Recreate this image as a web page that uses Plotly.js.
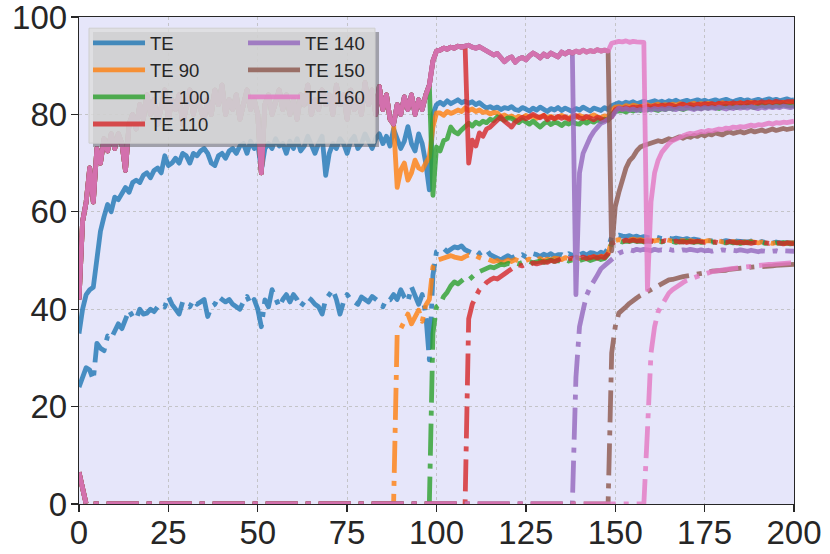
<!DOCTYPE html>
<html>
<head>
<meta charset="utf-8">
<script src="https://cdn.plot.ly/plotly-3.0.1.min.js"></script>
<style>
  html, body { margin: 0; padding: 0; background: #fff; }
  #plot { width: 830px; height: 554px; }
  .js-line { stroke-linejoin: round; }
</style>
</head>
<body>
<div id="plot"></div>
<script>
// tick labels
const xTicks = [0, 25, 50, 75, 100, 125, 150, 175, 200]
const yTicks = [0, 20, 40, 60, 80, 100]

// run names, colours and the epoch each fine-tuned run branches off the shared run
const runNames = ['TE', 'TE 90', 'TE 100', 'TE 110', 'TE 140', 'TE 150', 'TE 160']
const runColors = ['31,119,180', '255,127,14', '44,160,44', '214,39,40', '148,103,189', '140,86,75', '227,119,194']
const branchAt = [null, 88, 98, 108, 138, 148, 158]

// TE, epochs 0..200
const teTrain = [
  35, 40, 43, 44, 44.5, 50, 56, 59, 61.5, 60,
  63, 62.5, 64, 65, 64, 66, 66.5, 66, 67.5, 68,
  67, 68.5, 69, 68, 71.5, 69.5, 70, 71, 70, 72,
  71.5, 70, 72, 71.5, 72.5, 73, 72, 70, 69.5, 71.5,
  72, 71, 72.5, 73, 72, 73.5, 74, 72, 74.5, 73,
  74, 68.5, 73, 74, 73, 75, 73.5, 74, 72, 74.5,
  73, 75, 72.5, 73.5, 75.5, 74, 72, 74, 75.5, 67.5,
  72, 74, 73, 75, 74, 72, 74.5, 75.5, 73, 74,
  76, 74.5, 73, 75, 76, 74, 75.5, 73.5, 77, 75,
  73, 74.5, 77.5, 74, 72.5, 76, 74, 70, 64.5, 80,
  82, 82.5, 82, 82.8, 82.2, 82.6, 83, 82.4, 82.7, 82.3,
  82.6, 82, 82.4, 81.8, 81.3, 81.6, 81.2, 81.5, 81, 81.4,
  81.2, 81.6, 81, 80.8, 81.4, 81.1, 80.7, 81.3, 80.9, 81.5,
  81, 80.6, 81.2, 80.9, 81.4, 80.8, 81.3, 81, 80.6, 81.2,
  80.9, 81.5, 81, 80.7, 81.3, 81.1, 80.8, 81.4, 81, 81.8,
  82.2, 82.4, 82.1, 82.5, 82.3, 82.6, 82.2, 82.5, 82.7, 82.4,
  82.6, 82.8, 82.5, 82.7, 82.4, 82.8, 82.6, 82.9, 82.5, 82.7,
  82.9, 82.6, 82.8, 83, 82.7, 82.9, 82.6, 82.8, 83, 82.7,
  82.9, 83.1, 82.8, 82.6, 82.9, 83.1, 82.8, 83, 82.7, 82.9,
  83.1, 82.8, 83, 83.2, 82.9, 83.1, 82.8, 83, 83.2, 82.9,
  83
]
const teTest = [
  24, 26, 28, 27.5, 25.5, 33, 32, 31.5, 34.5, 34,
  35.5, 37, 36, 38, 39.8, 38.5, 38, 40, 39, 39.2,
  40, 39.5, 40.5, 41, 40.5, 42.6, 41, 40, 39, 41.5,
  41, 40.5, 41.9, 41, 41.5, 42, 38.5, 40.5, 41, 42.6,
  42, 41.5, 42, 41, 40.5, 40, 41.5, 42.6, 41, 42,
  40, 36.4, 41.9, 40.5, 44, 42.5, 40.5, 42, 43, 41.5,
  43, 42, 40.5, 41.5, 42.5, 41.9, 41, 40.5, 39, 42,
  43, 44, 42, 39, 41.5, 43, 42, 41.5, 41, 42.5,
  42, 41.5, 42.6, 42, 41.5, 40.5, 42, 41.9, 43, 42,
  44, 42.5, 41.5, 44.6, 43, 41, 43, 39, 29.6, 47,
  51.8, 52.2, 52.5, 51.8, 52.4, 52.8, 52.6, 53, 52.2, 51.8,
  51.5, 52, 51.4, 51.9, 52.2, 51.2, 50.8, 50.4, 50.1, 50.6,
  51, 50.5, 50.9, 50.8, 51.2, 50.7, 51, 51.4, 51.2, 50.8,
  51.3, 51, 51.4, 50.9, 51.2, 51.2, 50.8, 51.4, 51.1, 51.6,
  51.2, 51.5, 51.1, 51.6, 51.5, 51.2, 51.7, 51.4, 52.5, 54.9,
  55, 55.2, 55, 54.9, 55.1, 54.8, 55, 54.7, 54.9, 54.8,
  54.6, 54.9, 54.7, 54.5, 54.8, 54.6, 54.4, 54.6, 54.5, 54.3,
  54.5, 54.2, 54.4, 54.3, 54.1, 54.3, 54.2, 54, 54.2, 54.1,
  53.9, 54.1, 54, 53.8, 54, 53.9, 53.9, 53.8, 54, 53.8,
  53.7, 53.9, 53.7, 53.8, 53.6, 53.8, 53.7, 53.5, 53.7, 53.6,
  53.6
]

// shared run the fine-tuned models start from, epochs 0..158
const baseTrain = [
  42, 58, 62, 69, 62, 73, 70, 75, 72.5, 76,
  73, 76, 74, 68.5, 78, 80, 77, 82, 79, 84,
  80, 83, 78, 81, 85, 79, 83, 81, 84, 78,
  82, 85, 80, 84, 81, 79, 83, 80, 85, 82,
  86, 80, 83, 81, 84, 79, 82, 85, 81, 83,
  80, 68, 82, 84, 80, 83, 85, 81, 84, 80,
  83, 79, 84, 82, 86, 80, 83, 81, 85, 82,
  84, 80, 86, 82, 84, 79, 85, 81, 83, 80,
  86.5, 82, 85, 80, 85.7, 81, 84, 79, 78, 82,
  80, 83.6, 81, 84, 80, 83, 81, 84, 86, 91,
  93, 93.2, 93.6, 93.4, 93.8, 93.6, 94, 93.8, 94, 94.2,
  93.8, 93.6, 93.9, 93.4, 93.2, 92.6, 92.2, 92.5, 91.6, 90.8,
  91.5, 91.8, 90.7, 91.4, 91.7, 91.2, 92, 92.6, 92.2, 91.6,
  92.4, 91.9, 92.6, 92.3, 91.8, 92.8, 92.4, 92.9, 92.6, 93,
  92.7, 93.2, 92.8, 93.1, 92.9, 93.3, 93, 93.2, 93, 94.6,
  94.8, 95, 94.9, 95.1, 94.8, 95, 94.9, 94.9, 94.8
]
const baseTest = [
  6.5, 3, 0, 0, 0, 0, 0, 0, 0, 0,
  0, 0, 0, 0, 0, 0, 0, 0, 0, 0,
  0, 0, 0, 0, 0, 0, 0, 0, 0, 0,
  0, 0, 0, 0, 0, 0, 0, 0, 0, 0,
  0, 0, 0, 0, 0, 0, 0, 0, 0, 0,
  0, 0, 0, 0, 0, 0, 0, 0, 0, 0,
  0, 0, 0, 0, 0, 0, 0, 0, 0, 0,
  0, 0, 0, 0, 0, 0, 0, 0, 0, 0,
  0, 0, 0, 0, 0, 0, 0, 0, 0, 0,
  0, 0, 0, 0, 0, 0, 0, 0, 0, 0,
  0, 0, 0, 0, 0, 0, 0, 0, 0, 0,
  0, 0, 0, 0, 0, 0, 0, 0, 0, 0,
  0, 0, 0, 0, 0, 0, 0, 0, 0, 0,
  0, 0, 0, 0, 0, 0, 0, 0, 0, 0,
  0, 0, 0, 0, 0, 0, 0, 0, 0, 0,
  0, 0, 0, 0, 0, 0, 0, 0, 0
]

// fine-tuned runs, from the epoch after the branch to 200
const te90Train = [
  65,
  68.6, 70, 66.5, 68, 70.6, 69, 68.6, 70, 71.3, 77.4,
  80.3, 80.3, 79.8, 80.6, 80.2, 80.5, 80.9, 80.6, 81.3, 80.8,
  81.1, 80.6, 80.9, 80.4, 80.5, 80.1, 80.4, 80.3, 79.6, 79.9,
  79.4, 79.7, 79.2, 79.6, 79.3, 79.8, 79.4, 79.7, 79.2, 79.5,
  79.8, 79.3, 79.6, 79.1, 79.5, 79.8, 79.4, 79.2, 79.7, 79.4,
  79.8, 79.5, 79.2, 79.6, 79.9, 79.5, 79.3, 79.7, 79.5, 80.8,
  81.5, 81.6, 81.4, 81.8, 81.6, 81.9, 81.7, 81.5, 81.8, 82,
  81.7, 81.9, 82.1, 81.8, 82, 81.8, 82.1, 81.9, 82.2, 82,
  81.8, 82.1, 82.3, 82, 82.2, 82, 82.3, 82.1, 81.9, 82.2,
  82.4, 82.1, 82.3, 82, 82.2, 82.4, 82.1, 82.3, 82.5, 82.2,
  82.4, 82.1, 82.3, 82.5, 82.2, 82.4, 82.2, 82.5, 82.3, 82.4,
  82.5
]
const te100Train = [
  63.4,
  73.3, 72.5, 74.6, 75, 77.4, 76.4, 76, 76.8, 77.5, 78.2,
  77.6, 78.4, 78, 78.6, 78.3, 79, 78.7, 79.5, 79.1, 78.8,
  79.3, 79.2, 78.7, 78.3, 78.9, 78.5, 78, 78.6, 77.9, 77.4,
  78.1, 78.5, 77.9, 78.4, 78.2, 77.7, 78.3, 78, 78.5, 78.1,
  78, 78.6, 78.2, 78.7, 78.4, 78.9, 78.5, 79, 78.8, 80,
  80.6, 80.6, 80.8, 80.5, 80.9, 80.7, 81, 80.8, 81.1, 80.9,
  81.2, 81, 80.8, 81.2, 81, 81.3, 81.1, 81.4, 81.2, 81,
  81.3, 81.5, 81.2, 81.4, 81.2, 81.5, 81.3, 81.6, 81.4, 81.2,
  81.5, 81.7, 81.4, 81.6, 81.4, 81.7, 81.5, 81.8, 81.6, 81.4,
  81.7, 81.9, 81.6, 81.8, 81.6, 81.9, 81.7, 82, 81.8, 81.7,
  81.9
]
const te110Train = [
  70,
  74.7, 73.5, 76.2, 75.5, 77, 77.4, 78.2, 79, 79.5, 78.6,
  78, 77.4, 78.4, 78.8, 79.4, 79.1, 79.6, 80, 79.6, 79.3,
  79.8, 78.9, 79.4, 79.1, 79.6, 79.2, 79.5, 79, 79.4, 79.8,
  79.3, 79.1, 79.6, 79.2, 78.9, 79.4, 79.1, 78.8, 79, 79.5,
  81, 81.3, 81.1, 81.4, 81.2, 81.5, 81.3, 81.6, 81.4, 81.7,
  81.5, 81.8, 81.6, 81.9, 81.7, 82, 81.8, 81.6, 81.9, 82.1,
  81.8, 82, 81.8, 82.1, 81.9, 82.2, 82, 82.2, 82, 82.3,
  82.1, 82.3, 82.1, 82.4, 82.2, 82.4, 82.2, 82.5, 82.3, 82.5,
  82.3, 82.6, 82.4, 82.6, 82.4, 82.7, 82.5, 82.4, 82.6, 82.5,
  82.6
]
const te140Train = [
  43,
  68, 72, 74, 75.3, 76.5, 77.2, 78.2, 78.5, 78.9, 79.5,
  80.5, 81.3, 81, 81.2, 80.9, 81.1, 80.8, 81, 80.8, 81.1,
  80.9, 81.2, 81, 81.2, 81, 81.3, 81.1, 81, 81.3, 81.1,
  81.4, 81.2, 81, 81.3, 81.1, 81.4, 81.2, 81.4, 81.2, 81.5,
  81.3, 81.1, 81.4, 81.2, 81.5, 81.3, 81.5, 81.3, 81.6, 81.4,
  81.2, 81.5, 81.3, 81.6, 81.4, 81.6, 81.4, 81.7, 81.5, 81.4,
  81.6
]
const te150Train = [
  52,
  61, 64, 67, 69, 70.5, 71.3, 72.5, 73.3, 73.6, 73.9,
  74, 74.3, 74.6, 74.4, 74.8, 75, 74.8, 75.2, 75.4, 75.1,
  75.5, 75.3, 75.7, 75.5, 75.9, 75.6, 76, 75.8, 76.2, 76,
  75.8, 76.2, 76.4, 76.1, 76.3, 76.5, 76.2, 76.5, 76.7, 76.4,
  76.6, 76.8, 76.5, 76.8, 77, 76.7, 76.9, 77.1, 76.9, 77.1,
  77.2
]
const te160Train = [
  44,
  62, 68, 70.6, 72.2, 73.3, 74, 74.6, 75, 75.4, 75.6,
  75.9, 76.1, 76, 76.3, 76.5, 76.4, 76.7, 76.6, 76.8, 77,
  76.9, 77.2, 77.1, 77.4, 77.3, 77.5, 77.4, 77.6, 77.8, 77.6,
  77.9, 77.8, 78, 78.2, 78, 78.3, 78.2, 78.4, 78.3, 78.5,
  78.6
]

const te90Test = [
  35,
  36, 37.5, 39, 37, 38.5, 39.8, 37.5, 40.8, 42, 48.7,
  50, 50.3, 50.6, 50.8, 51, 50.7, 50.5, 50.4, 50.8, 51.1,
  50.9, 51, 50.6, 50.3, 50.4, 50.1, 49.8, 50, 49.6, 49.7,
  50.1, 49.8, 50.2, 49.9, 50.1, 50, 50.3, 49.9, 50.2, 50.4,
  50, 50.3, 50.1, 50.5, 50.4, 50.2, 50.6, 50.3, 50.5, 50.7,
  50.4, 50.6, 50.8, 50.5, 50.8, 50.6, 50.9, 50.7, 51.5, 53.9,
  54.2, 54.3, 54.1, 54.3, 54.2, 54.4, 54.2, 54.3, 54.1, 54.3,
  54.2, 54, 54.2, 54.1, 54.3, 54.1, 54, 54.2, 54, 54.1,
  53.9, 54.1, 54, 53.8, 54, 53.9, 54.1, 53.9, 53.8, 54,
  53.8, 53.9, 53.7, 53.9, 53.8, 53.6, 53.8, 53.7, 53.9, 53.7,
  53.6, 53.8, 53.6, 53.7, 53.5, 53.7, 53.6, 53.4, 53.6, 53.5,
  53.6
]
const te100Test = [
  35,
  40.5, 41, 42.6, 43.5, 44.8, 45.6, 45.2, 45.8, 46.4, 46,
  46.8, 47.3, 47.7, 48, 48.4, 48.7, 48.5, 48.9, 49.2, 49.1,
  49.4, 49.2, 49.5, 49.3, 49.6, 49.5, 49.8, 49.5, 49.7, 49.9,
  49.6, 49.9, 50.1, 49.8, 50, 49.9, 50.2, 49.9, 50.1, 50.3,
  50, 50.2, 50.4, 50, 50.3, 50.5, 50.2, 50.4, 51.3, 53.6,
  53.8, 54, 53.8, 54, 53.9, 54.1, 53.9, 54, 53.8, 54,
  53.9, 54.1, 53.9, 53.8, 54, 53.8, 53.9, 53.7, 53.9, 53.8,
  54, 53.8, 53.7, 53.9, 53.7, 53.8, 53.6, 53.8, 53.7, 53.9,
  53.7, 53.6, 53.8, 53.6, 53.7, 53.5, 53.7, 53.6, 53.8, 53.6,
  53.5, 53.7, 53.5, 53.6, 53.4, 53.6, 53.5, 53.7, 53.5, 53.4,
  53.6
]
const te110Test = [
  38,
  41, 42.6, 44, 44.6, 45.5, 46, 46.4, 46.2, 46.7, 47.4,
  48, 48.3, 48.8, 49.1, 48.9, 49.3, 49.1, 49.5, 49.3, 49.5,
  49.8, 49.6, 50, 49.8, 50.1, 50.4, 50.1, 50.3, 50.5, 50.2,
  50.5, 50.7, 50.4, 50.6, 50.8, 50.5, 50.8, 50.6, 51.4, 53.5,
  53.9, 54.1, 53.9, 54.2, 54, 54.2, 54, 54.1, 53.9, 54.1,
  54, 53.8, 54, 53.9, 54.1, 53.9, 53.8, 54, 53.8, 53.9,
  53.7, 53.9, 53.8, 54, 53.8, 53.7, 53.9, 53.7, 53.8, 53.6,
  53.8, 53.7, 53.9, 53.7, 53.6, 53.8, 53.6, 53.7, 53.5, 53.7,
  53.6, 53.8, 53.6, 53.5, 53.7, 53.5, 53.6, 53.4, 53.6, 53.5,
  53.4
]
const te140Test = [
  26,
  36.4, 39.8, 42.9, 44.5, 46, 47, 48.3, 49, 49.6, 50.4,
  51, 51.5, 51.8, 52, 52.2, 52, 52.3, 52.1, 52.3, 52.2,
  52, 52.3, 52.1, 52.2, 52, 52.3, 52.1, 52.2, 52, 52.2,
  52.1, 52.3, 52.1, 52, 52.2, 52, 52.1, 51.9, 52.1, 52,
  52.2, 52, 51.9, 52.1, 52, 52.2, 52, 51.9, 52.1, 52,
  51.8, 52, 51.9, 52.1, 51.9, 52, 51.8, 52, 51.9, 52,
  51.9
]
const te150Test = [
  31,
  36.4, 39.2, 40, 40.5, 41.2, 41.9, 42.3, 42.8, 43.2, 43.6,
  44.1, 44.6, 44.9, 45.3, 45.6, 46, 46.1, 46.4, 46.5, 46.7,
  46.8, 47, 47, 47.3, 47.4, 47.5, 47.6, 47.8, 47.8, 48,
  48, 48, 48.2, 48.3, 48.3, 48.4, 48.5, 48.5, 48.6, 48.7,
  48.7, 48.7, 48.8, 48.9, 48.9, 49, 49, 49.1, 49.1, 49.2,
  49.2
]
const te160Test = [
  15,
  31, 36.4, 39.5, 40.8, 42.2, 43.3, 44, 44.6, 45, 45.5,
  45.9, 46.2, 46.6, 46.8, 47, 47.2, 47.5, 47.7, 47.8, 48,
  48, 48.2, 48.3, 48.4, 48.5, 48.6, 48.7, 48.8, 48.8, 48.9,
  49, 49.1, 49.1, 49.2, 49.2, 49.3, 49.3, 49.4, 49.4, 49.5,
  49.5
]

const branchTrain = [null, te90Train, te100Train, te110Train, te140Train, te150Train, te160Train]
const branchTest = [null, te90Test, te100Test, te110Test, te140Test, te150Test, te160Test]

const epochs = []
for (let e = 0; e <= 200; e++) epochs.push(e)

function fromBase(base, at, after) {
  return base.slice(0, at + 1).concat(after)
}

const font = 'Liberation Sans, Arial, sans-serif'
const ink = '#262626'

const data = []
runNames.forEach(function (name, i) {
  let train = teTrain
  let test = teTest
  if (i > 0) {
    train = fromBase(baseTrain, branchAt[i], branchTrain[i])
    test = fromBase(baseTest, branchAt[i], branchTest[i])
  }
  const color = 'rgba(' + runColors[i] + ',0.8)'
  data.push({
    x: epochs.slice(0, train.length), y: train,
    type: 'scatter', mode: 'lines', name: name,
    line: {color: color, width: 4.8},
    legend: i < 4 ? 'legend' : 'legend2',
    hoverinfo: 'skip'
  })
  data.push({
    x: epochs.slice(0, test.length), y: test,
    type: 'scatter', mode: 'lines', name: name + ' test',
    line: {color: color, width: 4.8, dash: '32px,8px,5px,8px'},
    showlegend: false,
    hoverinfo: 'skip'
  })
})

function axis(range, ticks, standoff) {
  return {
    range: range, tickvals: ticks, fixedrange: true,
    showline: true, mirror: true, linecolor: ink, linewidth: 1.3,
    ticks: 'outside', ticklen: 7, tickwidth: 1.3, tickcolor: ink,
    ticklabelstandoff: standoff, ticklabeloverflow: 'allow',
    showgrid: true, gridcolor: '#c4c4c8', griddash: 'dot', gridwidth: 1,
    zeroline: false,
    tickfont: {family: font, size: 33, color: ink}
  }
}

const legendBase = {
  xref: 'paper', yref: 'paper', xanchor: 'left', yanchor: 'top',
  y: 0.985, bgcolor: 'rgba(0,0,0,0)', borderwidth: 0,
  itemwidth: 52, tracegroupgap: 0,
  font: {family: font, size: 18.5, color: ink}
}

const layout = {
  width: 830, height: 554,
  margin: {l: 79, r: 36, t: 17, b: 50},
  paper_bgcolor: '#ffffff',
  plot_bgcolor: '#e6e6fa',
  xaxis: axis([0, 200], xTicks, -8),
  yaxis: axis([0, 100], yTicks, -3),
  legend: Object.assign({}, legendBase, {x: 0.0126}),
  legend2: Object.assign({}, legendBase, {x: 0.2294}),
  shapes: [
    {type: 'rect', xref: 'paper', yref: 'paper', layer: 'above',
     x0: 0.0196, x1: 0.4196, y0: 0.733, y1: 0.969,
     fillcolor: 'rgba(90,90,90,0.5)', line: {width: 0}},
    {type: 'rect', xref: 'paper', yref: 'paper', layer: 'above',
     x0: 0.014, x1: 0.414, y0: 0.741, y1: 0.977,
     fillcolor: 'rgba(221,221,221,0.82)', line: {color: '#cfcfcf', width: 1}}
  ],
  showlegend: true
}

Plotly.newPlot('plot', data, layout, {displayModeBar: false, staticPlot: true})
</script>
</body>
</html>
